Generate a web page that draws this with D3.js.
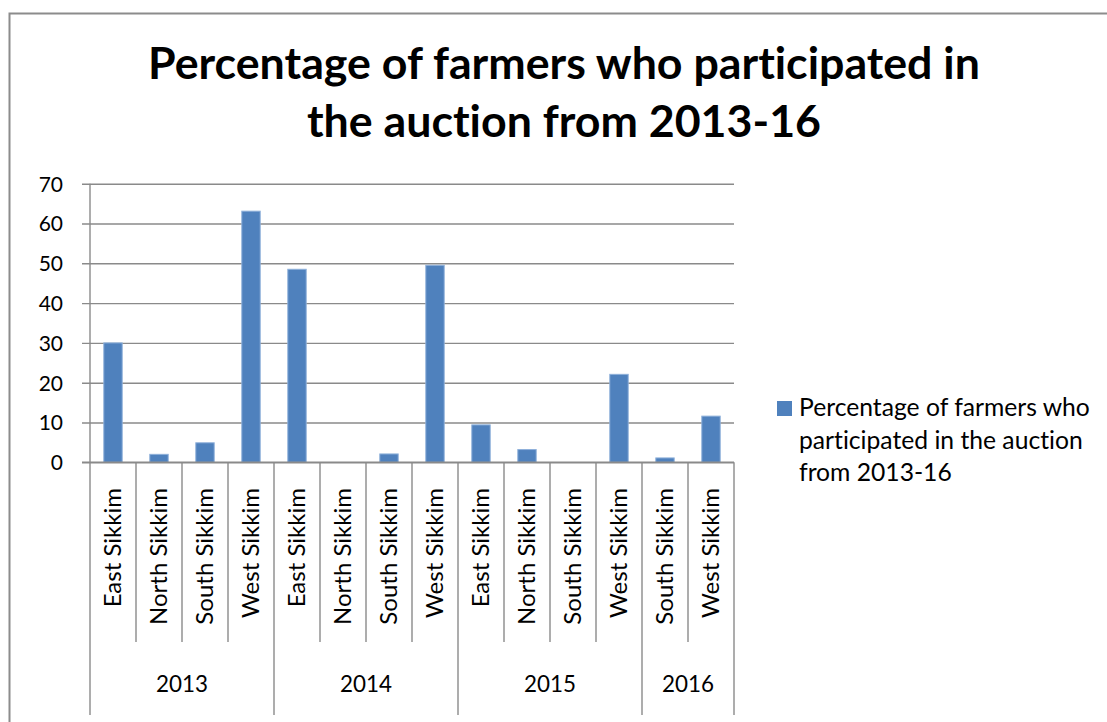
<!DOCTYPE html>
<html>
<head>
<meta charset="utf-8">
<script src="https://cdn.jsdelivr.net/npm/d3@7"></script>
<style>
  html, body { margin: 0; padding: 0; background: #ffffff; }
  svg { display: block; }
  svg text { font-variant-ligatures: none; font-feature-settings: "liga" 0, "clig" 0; }
</style>
</head>
<body>
<svg id="chart" width="1107" height="722"></svg>
<script>
// Chart data
const titleLines = ["Percentage of farmers who participated in", "the auction from 2013-16"];
const seriesName = "Percentage of farmers who participated in the auction from 2013-16";
const legendLines = ["Percentage of farmers who", "participated in the auction", "from 2013-16"];
const categoryYears = ["2013","2013","2013","2013","2014","2014","2014","2014","2015","2015","2015","2015","2016","2016"];
const categoryDistricts = ["East Sikkim","North Sikkim","South Sikkim","West Sikkim",
                           "East Sikkim","North Sikkim","South Sikkim","West Sikkim",
                           "East Sikkim","North Sikkim","South Sikkim","West Sikkim",
                           "South Sikkim","West Sikkim"];
const values = [30, 2, 4.9, 63.1, 48.5, 0, 2.1, 49.5, 9.4, 3.2, 0, 22.1, 1.1, 11.6];
const yTicks = [0, 10, 20, 30, 40, 50, 60, 70];

// Layout
const FONT = "Lato, 'Open Sans', 'Noto Sans', sans-serif";
const plot = { left: 90, right: 734, top: 183.7, bottom: 462.3 };
const level1Bottom = 642;
const level2Bottom = 715;
const gridColor = "#8a8a8a";
const barFill = "#4f81bd";
const barStroke = "#8eb0da";

const svg = d3.select("#chart");

// Scale a font so that a given string spans a target width
function fitSize(text, weight, target) {
  const t = svg.append("text").attr("font-family", FONT).attr("font-weight", weight)
    .attr("font-size", 40).text(text);
  const w = t.node().getComputedTextLength();
  t.remove();
  return 40 * target / w;
}

// Outer chart frame
svg.append("rect")
  .attr("x", 9.5).attr("y", 13.5).attr("width", 1200).attr("height", 800)
  .attr("fill", "none").attr("stroke", "#8c8c8c").attr("stroke-width", 2);

// Title
const titleSize = fitSize(titleLines[0], "bold", 832);
svg.append("g").selectAll("text").data(titleLines).join("text")
  .attr("x", 564).attr("y", (d, i) => 79 + i * 58)
  .attr("text-anchor", "middle")
  .attr("font-family", FONT).attr("font-weight", "bold").attr("font-size", titleSize)
  .attr("fill", "#000").text(d => d);

// Scales
const idx = values.map((d, i) => i);
const x = d3.scaleBand().domain(idx).range([plot.left, plot.right]).paddingInner(0).paddingOuter(0);
const y = d3.scaleLinear().domain([0, 70]).range([plot.bottom, plot.top]);

// Gridlines with left tick marks
const yAxis = d3.axisLeft(y).tickValues(yTicks).tickSize(-(plot.right - plot.left)).tickPadding(27)
  .tickFormat(d3.format("d"));
const yg = svg.append("g").attr("transform", `translate(${plot.left},0)`).call(yAxis);
yg.select(".domain").remove();
yg.selectAll(".tick line").attr("x1", -8).attr("stroke", gridColor).attr("stroke-width", 1.4);
yg.selectAll(".tick text").attr("font-family", FONT).attr("font-size", 21)
  .attr("fill", "#000").attr("dy", "0.35em");

// Vertical axis line
svg.append("line")
  .attr("x1", plot.left).attr("x2", plot.left).attr("y1", plot.top).attr("y2", plot.bottom)
  .attr("stroke", gridColor).attr("stroke-width", 1.4);

// Bars (gap width 150%)
const barW = x.bandwidth() / 2.5;
svg.append("g").selectAll("rect").data(values).join("rect")
  .attr("x", (d, i) => x(i) + (x.bandwidth() - barW) / 2)
  .attr("y", d => y(d))
  .attr("width", barW)
  .attr("height", d => y(0) - y(d))
  .attr("fill", barFill)
  .attr("stroke", d => d > 0 ? barStroke : "none")
  .attr("stroke-width", 1);

// Category boundaries: district separators and year separators
const groupStarts = new Set(idx.filter(i => i === 0 || categoryYears[i] !== categoryYears[i - 1]));
const boundaries = d3.range(values.length + 1);
svg.append("g").selectAll("line").data(boundaries).join("line")
  .attr("x1", i => i < values.length ? x(i) : plot.right)
  .attr("x2", i => i < values.length ? x(i) : plot.right)
  .attr("y1", plot.bottom)
  .attr("y2", i => (i === values.length || groupStarts.has(i)) ? level2Bottom : level1Bottom)
  .attr("stroke", gridColor).attr("stroke-width", 1.4);

// Horizontal axis line (redrawn on top of bars)
svg.append("line")
  .attr("x1", plot.left - 8).attr("x2", plot.right).attr("y1", plot.bottom).attr("y2", plot.bottom)
  .attr("stroke", gridColor).attr("stroke-width", 1.4);

// District labels (rotated)
const catSize = fitSize("North Sikkim", "normal", 137);
svg.append("g").selectAll("text").data(categoryDistricts).join("text")
  .attr("transform", (d, i) => `translate(${x(i) + x.bandwidth() / 2},488) rotate(-90)`)
  .attr("text-anchor", "end").attr("dy", "0.35em")
  .attr("font-family", FONT).attr("font-size", catSize).attr("fill", "#000")
  .text(d => d);

// Year labels, centred under each group
const years = Array.from(new Set(categoryYears));
const yearSize = fitSize("2013", "normal", 52);
svg.append("g").selectAll("text").data(years).join("text")
  .attr("x", yr => {
    const members = idx.filter(i => categoryYears[i] === yr);
    return (x(members[0]) + x(members[members.length - 1]) + x.bandwidth()) / 2;
  })
  .attr("y", 692)
  .attr("text-anchor", "middle")
  .attr("font-family", FONT).attr("font-size", yearSize).attr("fill", "#000")
  .text(d => d);

// Legend
const legend = svg.append("g").attr("aria-label", seriesName);
legend.append("rect").attr("x", 777).attr("y", 401).attr("width", 15).attr("height", 15)
  .attr("fill", barFill);
const legSize = fitSize(legendLines[0], "normal", 291);
legend.selectAll("text").data(legendLines).join("text")
  .attr("x", 799).attr("y", (d, i) => 416 + i * 32.5)
  .attr("font-family", FONT).attr("font-size", legSize).attr("fill", "#000")
  .text(d => d);
</script>
</body>
</html>
